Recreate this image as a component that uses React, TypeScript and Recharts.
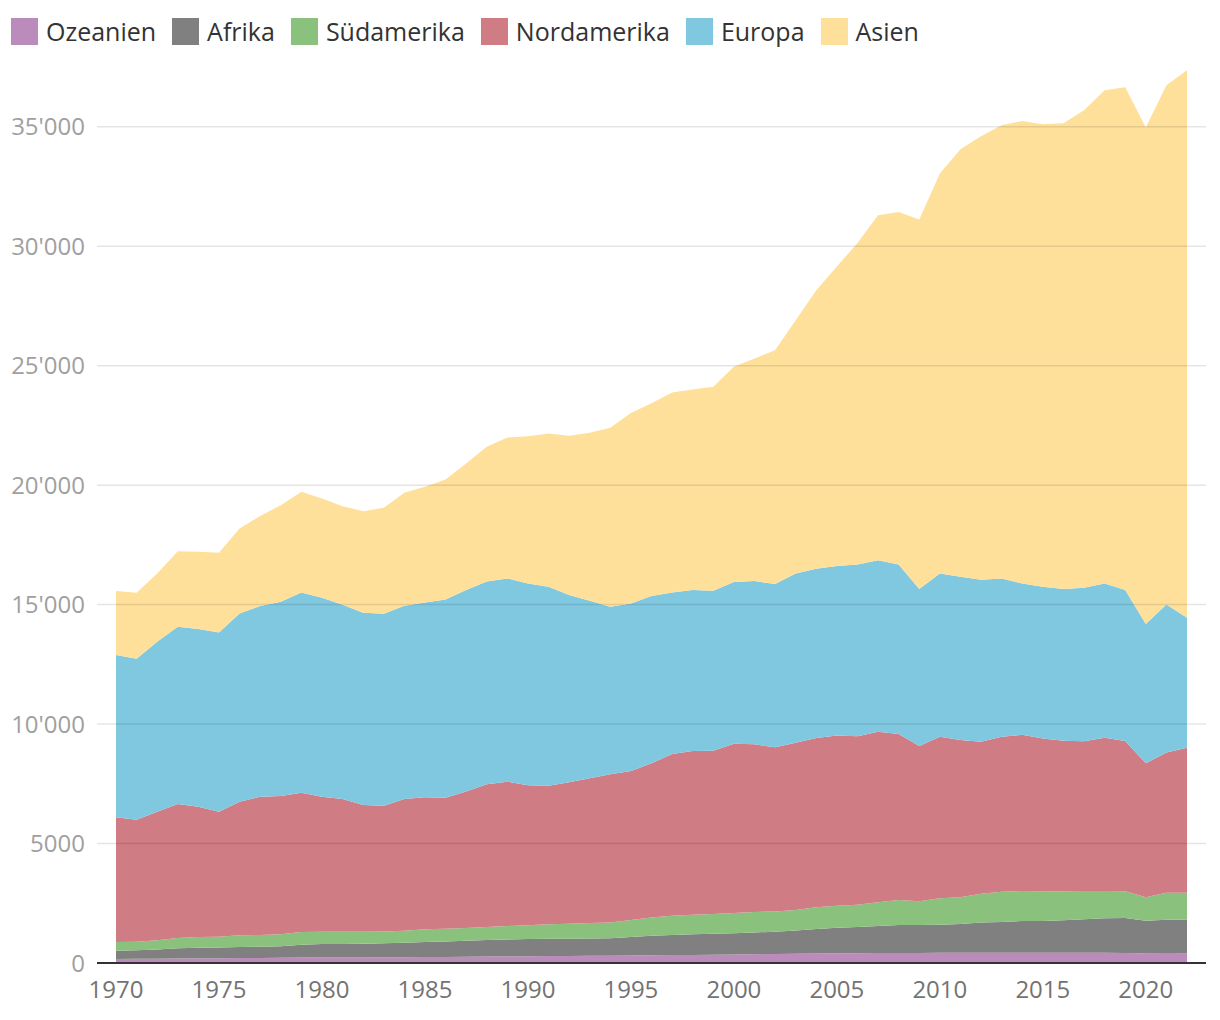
import { AreaChart, Area, XAxis, YAxis, ReferenceLine } from 'recharts';

// years 1970–2022
const YEARS = Array.from({ length: 53 }, (_, i) => 1970 + i);

const OZEANIEN = [
  170, 175, 180, 190, 195, 200, 205, 210, 215, 225, 230, 235, 235, 240, 245, 250, 255, 262, 268, 275,
  285, 290, 295, 300, 305, 315, 325, 335, 340, 350, 360, 370, 375, 385, 395, 405, 410, 415, 420, 420,
  425, 425, 425, 425, 425, 425, 425, 425, 425, 420, 395, 385, 400,
];
const AFRIKA = [
  346, 355, 380, 424, 447, 450, 465, 473, 485, 535, 560, 565, 575, 583, 605, 630, 645, 668, 694, 710,
  715, 720, 725, 730, 735, 775, 815, 836, 860, 870, 881, 910, 935, 975, 1025, 1073, 1100, 1133, 1170, 1170,
  1179, 1207, 1265, 1291, 1332, 1332, 1360, 1402, 1444, 1460, 1376, 1428, 1413,
];
const SUEDAMERIKA = [
  364, 363, 388, 432, 446, 445, 488, 489, 500, 537, 521, 511, 501, 497, 503, 528, 536, 534, 544, 565,
  580, 608, 620, 640, 650, 710, 760, 809, 820, 830, 849, 850, 850, 860, 910, 919, 930, 992, 1046, 991,
  1103, 1117, 1210, 1267, 1255, 1243, 1215, 1185, 1141, 1120, 978, 1128, 1128,
];
const NORDAMERIKA = [
  5216, 5103, 5383, 5607, 5452, 5236, 5591, 5786, 5787, 5829, 5647, 5551, 5300, 5262, 5509, 5525, 5480, 5716, 5971, 6036,
  5855, 5801, 5921, 6060, 6205, 6233, 6455, 6765, 6850, 6833, 7086, 7021, 6865, 6998, 7084, 7123, 7045, 7138, 6945, 6498,
  6761, 6581, 6359, 6485, 6540, 6401, 6301, 6264, 6417, 6288, 5606, 5874, 6067,
];
const EUROPA = [
  6791, 6736, 7112, 7418, 7435, 7505, 7882, 7979, 8130, 8384, 8326, 8129, 8046, 8033, 8088, 8159, 8301, 8426, 8493, 8510,
  8452, 8326, 7836, 7429, 7013, 7017, 7000, 6765, 6736, 6694, 6765, 6832, 6832, 7087, 7086, 7091, 7196, 7183, 7100, 6569,
  6837, 6833, 6778, 6628, 6335, 6344, 6347, 6427, 6460, 6318, 5829, 6193, 5439,
];
const ASIEN = [
  2678, 2762, 2862, 3167, 3235, 3332, 3557, 3766, 4046, 4210, 4159, 4130, 4255, 4435, 4727, 4837, 5021, 5301, 5632, 5899,
  6163, 6417, 6666, 7029, 7490, 7974, 8075, 8368, 8394, 8536, 9009, 9317, 9791, 10595, 11658, 12539, 13457, 14435, 14754, 15468,
  16736, 17895, 18563, 18966, 19355, 19358, 19497, 19986, 20639, 21045, 20781, 21727, 22916,
];

const Y_TICKS = [0, 5000, 10000, 15000, 20000, 25000, 30000, 35000];
const X_TICKS = [1970, 1975, 1980, 1985, 1990, 1995, 2000, 2005, 2010, 2015, 2020];

const SERIES = [
  { key: 'ozeanien', name: 'Ozeanien', color: '#BB8BBB' },
  { key: 'afrika', name: 'Afrika', color: '#808080' },
  { key: 'suedamerika', name: 'Südamerika', color: '#8AC17C' },
  { key: 'nordamerika', name: 'Nordamerika', color: '#D07C85' },
  { key: 'europa', name: 'Europa', color: '#7FC8E0' },
  { key: 'asien', name: 'Asien', color: '#FEE09A' },
];

const chartData = YEARS.map((year, i) => ({
  year,
  ozeanien: OZEANIEN[i],
  afrika: AFRIKA[i],
  suedamerika: SUEDAMERIKA[i],
  nordamerika: NORDAMERIKA[i],
  europa: EUROPA[i],
  asien: ASIEN[i],
}));

const FONT = '"Open Sans", sans-serif';

function formatY(v: number) {
  if (v < 10000) return String(v);
  return String(v).replace(/\B(?=(\d{3})+(?!\d))/g, "'");
}

function LegendRow() {
  return (
    <div
      style={{
        position: 'absolute',
        left: 3,
        top: 6,
        display: 'flex',
        alignItems: 'center',
        fontFamily: FONT,
        fontSize: 25,
        color: '#333',
      }}
    >
      {SERIES.map((s) => (
        <div key={s.key} style={{ display: 'flex', alignItems: 'center', marginRight: 16 }}>
          <span style={{ width: 27, height: 27, background: s.color, display: 'inline-block', marginRight: 8 }} />
          <span>{s.name}</span>
        </div>
      ))}
    </div>
  );
}

export default function App() {
  return (
    <div style={{ position: 'relative', width: 1212, height: 1010 }}>
      <LegendRow />
      <AreaChart
        width={1212}
        height={1010}
        data={chartData}
        margin={{ top: 59, right: 14, left: 0, bottom: 0 }}
        style={{ fontFamily: FONT }}
      >
        <XAxis
          dataKey="year"
          type="number"
          domain={[1970, 2022]}
          ticks={X_TICKS}
          padding={{ left: 19, right: 19 }}
          tickLine={false}
          tickSize={0}
          tickMargin={18}
          height={55}
          axisLine={{ stroke: '#333', strokeWidth: 2 }}
          tick={{ fontSize: 24, fill: '#737373' }}
        />
        <YAxis
          domain={[0, 37500]}
          ticks={Y_TICKS}
          tickFormatter={formatY}
          width={89}
          axisLine={false}
          tickLine={false}
          tickSize={0}
          tickMargin={12}
          tick={{ fontSize: 24, fill: '#a0a0a0' }}
          allowDataOverflow
        />
        {SERIES.map((s) => (
          <Area
            key={s.key}
            type="linear"
            dataKey={s.key}
            name={s.name}
            stackId="1"
            stroke="none"
            fill={s.color}
            fillOpacity={1}
            isAnimationActive={false}
          />
        ))}
        {Y_TICKS.filter((t) => t > 0).map((t) => (
          <ReferenceLine key={t} y={t} stroke="#000" strokeOpacity={0.1} strokeWidth={1.5} />
        ))}
      </AreaChart>
    </div>
  );
}
